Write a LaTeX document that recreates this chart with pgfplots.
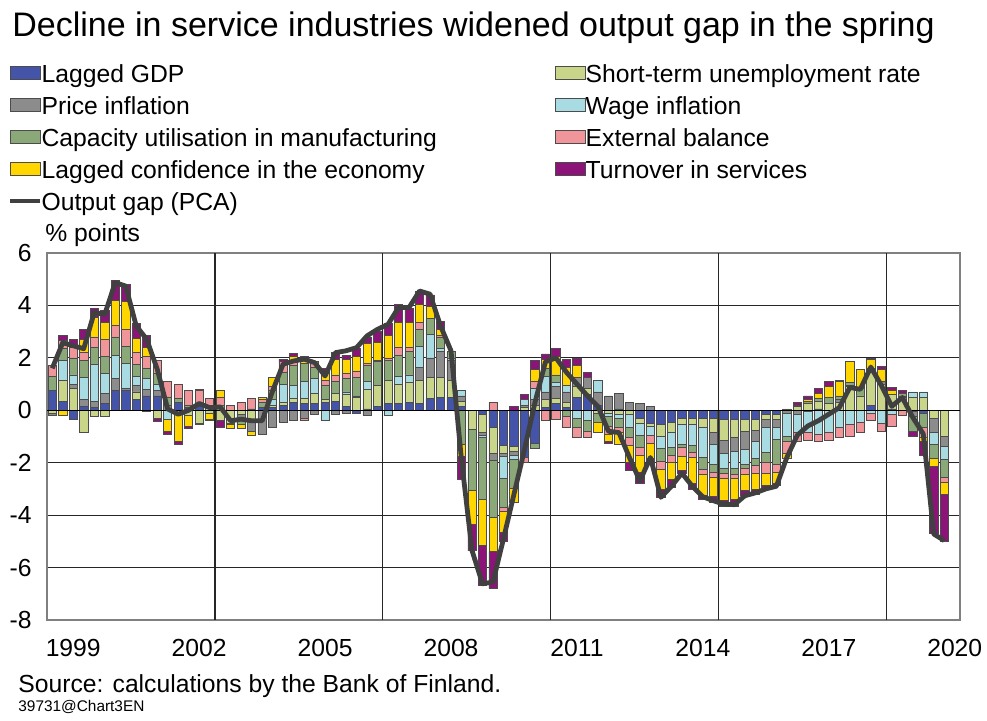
\documentclass[border=0pt]{standalone}
\usepackage{pgfplots}
\usepackage{pgfplotstable}
\pgfplotsset{compat=1.18}
\usepackage{fontspec}
\setmainfont{Liberation Sans}

\definecolor{cgdp}{RGB}{68,84,168}
\definecolor{cstu}{RGB}{201,214,138}
\definecolor{cprice}{RGB}{140,140,140}
\definecolor{cwage}{RGB}{168,220,226}
\definecolor{ccap}{RGB}{138,168,120}
\definecolor{cext}{RGB}{240,150,155}
\definecolor{cconf}{RGB}{255,214,0}
\definecolor{cturn}{RGB}{140,20,120}
\definecolor{cline}{RGB}{64,64,64}

\pgfplotstableread{
k gdp stu price wage cap ext conf turn gap
0 0.75 -0.10 -0.10 0.00 0.55 0.40 0.00 0.00 1.60
1 0.35 0.80 0.00 0.75 0.45 0.30 -0.20 0.22 2.58
2 -0.35 0.85 0.15 0.35 0.65 0.40 0.10 0.20 2.46
3 0.15 -0.85 0.25 0.85 0.65 0.30 0.50 0.40 2.35
4 0.10 -0.25 0.25 1.40 0.65 0.40 0.75 0.35 3.73
5 0.25 -0.25 0.40 0.75 0.65 0.65 0.65 0.45 3.66
6 0.75 0.00 0.45 0.90 0.70 0.45 0.95 0.75 4.87
7 0.75 0.00 0.10 0.95 0.65 0.65 1.05 0.65 4.74
8 0.40 0.30 0.25 0.35 0.45 0.45 0.55 0.55 3.22
9 0.55 -0.05 0.25 0.40 0.40 0.45 0.35 0.45 2.71
10 0.55 -0.30 0.20 0.25 0.40 0.50 0.00 -0.12 1.57
11 0.00 0.00 0.20 -0.35 0.30 0.60 -0.45 -0.12 0.05
12 0.30 -0.15 0.00 0.00 0.15 0.55 -1.05 -0.10 -0.15
13 0.10 -0.20 0.00 0.00 0.10 0.55 -0.40 -0.10 0.00
14 0.15 -0.50 -0.05 0.00 0.00 0.60 0.00 0.05 0.26
15 0.00 -0.10 0.00 0.15 0.00 0.30 -0.25 -0.05 0.10
16 0.00 -0.40 0.00 0.00 0.20 0.30 0.25 -0.25 0.13
17 0.00 -0.50 -0.05 0.00 0.00 0.20 -0.15 0.00 -0.40
18 0.00 -0.15 -0.20 0.00 -0.20 0.30 -0.15 0.00 -0.34
19 0.05 -0.40 -0.40 0.00 0.00 0.40 -0.15 0.00 -0.40
20 0.10 0.00 -0.90 0.00 0.20 0.10 0.10 0.00 -0.40
21 0.10 0.10 -0.65 0.20 0.35 0.15 0.35 0.00 0.74
22 0.20 0.10 -0.45 0.70 0.45 0.40 0.00 0.10 1.76
23 0.30 0.15 -0.40 0.50 0.75 0.20 0.15 0.12 1.88
24 0.25 0.20 -0.30 0.65 0.70 -0.10 0.15 0.10 1.95
25 0.25 0.40 -0.15 0.55 0.45 0.15 0.08 0.00 1.82
26 0.30 0.10 0.00 -0.40 0.55 0.20 0.25 0.20 1.31
27 0.35 0.30 -0.15 0.00 0.45 0.25 0.60 0.25 2.20
28 0.15 0.45 -0.10 0.10 0.50 0.20 0.55 0.15 2.27
29 -0.10 0.50 0.05 0.00 0.70 0.25 0.55 0.30 2.39
30 0.05 0.75 -0.20 0.30 0.60 0.10 0.75 0.25 2.84
31 0.15 0.80 0.00 0.00 0.90 0.05 0.70 0.40 3.09
32 0.25 0.90 0.00 -0.20 0.75 0.10 0.85 0.45 3.28
33 0.25 0.75 0.00 0.30 0.80 0.30 0.95 0.70 3.92
34 0.30 0.75 0.00 0.30 0.90 0.15 0.95 0.55 3.92
35 0.25 0.90 0.50 0.80 0.65 0.25 0.70 0.50 4.55
36 0.45 0.80 0.75 0.90 0.60 0.00 0.45 0.45 4.43
37 0.50 0.75 1.00 0.10 0.45 0.05 0.25 0.30 3.22
38 0.50 0.65 0.75 0.10 0.25 0.00 0.00 0.00 2.27
39 0.15 0.20 0.20 0.20 -1.30 0.00 -0.45 -0.90 -1.90
40 0.00 -0.72 0.00 0.00 -2.35 0.00 -1.27 -1.02 -5.35
41 -0.15 -0.70 -0.12 -0.06 -2.35 0.00 -1.78 -1.52 -6.62
42 -0.66 -1.00 -0.25 0.00 -2.16 0.30 -1.33 -1.40 -6.55
43 -1.35 -0.30 -0.10 -0.85 -1.10 -0.15 -0.80 -0.35 -4.90
44 -1.36 -0.20 -0.15 -0.15 -1.10 0.00 -0.55 0.15 -3.20
45 -1.80 0.10 0.10 0.20 0.00 -0.20 0.00 0.20 -1.50
46 -1.25 0.20 0.20 0.45 -0.20 0.25 0.45 0.35 0.30
47 0.10 0.30 0.30 0.60 0.30 -0.40 0.35 0.20 1.85
48 0.25 0.20 0.45 0.15 0.30 -0.35 0.70 0.30 2.00
49 0.10 0.20 0.40 0.25 -0.25 -0.40 0.70 0.30 1.45
50 0.50 0.40 0.35 -0.30 -0.35 -0.40 0.45 0.30 1.00
51 0.60 0.25 0.40 -0.40 -0.40 -0.25 0.00 0.20 0.55
52 0.20 -0.10 0.50 0.45 -0.35 0.00 -0.40 0.00 0.15
53 0.00 -0.10 0.55 -0.15 -0.35 -0.30 -0.30 -0.05 -0.80
54 0.05 -0.15 0.60 -0.15 -0.35 -0.20 -0.45 0.00 -0.85
55 0.00 -0.15 0.30 -0.50 -0.40 -0.30 -0.65 -0.30 -1.80
56 -0.30 -0.20 0.25 -0.45 -0.45 -0.30 -0.65 -0.45 -2.70
57 -0.50 -0.10 0.15 -0.35 0.00 -0.30 -0.60 -0.20 -1.80
58 -0.55 -0.45 0.00 -0.45 -0.50 -0.30 -0.75 -0.32 -3.32
59 -0.45 -0.40 0.00 -0.55 -0.30 -0.30 -0.65 -0.30 -2.90
60 -0.30 -0.25 0.00 -0.75 -0.10 -0.35 -0.55 -0.12 -2.40
61 -0.30 -0.25 0.00 -0.80 -0.25 -0.20 -1.00 -0.20 -2.90
62 -0.30 -0.35 0.00 -1.15 -0.45 -0.20 -0.80 -0.13 -3.30
63 -0.30 -0.55 -0.45 -0.75 -0.30 -0.20 -0.75 -0.20 -3.45
64 -0.35 -0.80 -0.50 -0.55 -0.20 -0.20 -0.85 -0.20 -3.58
65 -0.35 -0.70 -0.50 -0.65 -0.25 -0.15 -0.80 -0.25 -3.60
66 -0.35 -0.45 -0.70 -0.55 -0.15 -0.25 -0.60 -0.20 -3.26
67 -0.35 -0.40 -0.45 -0.65 -0.25 -0.30 -0.60 -0.20 -3.15
68 -0.15 -0.20 -0.30 -0.95 -0.40 -0.40 -0.45 -0.10 -3.00
69 -0.15 -0.20 -0.30 -0.45 -0.95 -0.30 -0.45 -0.05 -2.90
70 0.00 0.05 -0.10 -0.90 -0.20 -0.45 -0.20 0.00 -1.80
71 0.00 0.15 -0.15 -0.70 0.05 -0.35 0.00 0.10 -0.95
72 0.00 0.25 -0.05 -0.80 0.10 -0.30 0.05 0.15 -0.60
73 0.05 0.30 0.00 -0.90 0.10 -0.30 0.20 0.20 -0.40
74 0.00 0.25 0.00 -0.85 0.25 -0.30 0.40 0.20 -0.15
75 0.00 0.30 0.10 -0.65 0.15 -0.40 0.55 0.03 0.10
76 0.00 0.90 0.05 -0.55 0.10 -0.45 0.80 0.03 0.87
77 0.00 0.55 0.00 -0.45 0.30 -0.40 0.70 0.02 0.80
78 0.20 1.30 0.00 -0.10 0.10 -0.30 0.35 0.05 1.65
79 0.00 1.00 0.10 -0.50 0.00 -0.30 0.45 0.12 0.95
80 0.05 0.55 0.00 -0.15 0.00 -0.45 0.15 0.12 0.15
81 0.00 0.50 0.05 0.00 0.10 -0.20 0.00 0.10 0.49
82 -0.05 0.50 -0.20 0.20 -0.55 0.00 0.00 -0.20 -0.27
83 -0.10 0.50 0.00 0.20 -0.55 -0.40 -0.15 -0.50 -0.90
84 0.00 -0.30 -0.55 -0.45 -0.55 0.00 -0.30 -2.55 -4.72
85 0.00 -0.98 -0.38 -0.50 -0.70 -0.20 -0.45 -1.78 -4.97
}\datatable

\begin{document}
\fontsize{12.35pt}{14pt}\selectfont
\begin{tikzpicture}[x=1pt,y=1pt]
\useasboundingbox (0,0) rectangle (493.5,360);
\pgfplotsset{
  base/.style={
    scale only axis, width=456.5pt, height=183.5pt,
    at={(23.5pt,50pt)}, anchor=south west,
    xmin=-0.5, xmax=86.5, ymin=-8, ymax=6,
  },
  barbase/.style={base, ybar stacked, bar width=0.79},
  seg/.style={fill=#1, draw=black!70, line width=0.35pt},
}
% positive parts, grid, labels, legend
\begin{axis}[barbase,
  ytick={-8,-6,-4,-2,0,2,4,6},
  yticklabels={-8,-6,-4,-2,0,2,4,6},
  xtick={2,14,26,38,50,62,74,86},
  xticklabels={1999,2002,2005,2008,2011,2014,2017,2020},
  extra x ticks={15.5,31.5,47.5,63.5,79.5},
  extra x tick labels={},
  extra x tick style={grid=major},
  ymajorgrids,
  major tick length=0pt,
  major grid style={black!85, line width=0.6pt},
  axis line style={black!50, line width=0.6pt},
  tick label style={font=\fontsize{12.35pt}{14pt}\selectfont},
  yticklabel style={inner sep=0pt, xshift=-7.5pt},
  xticklabel style={inner sep=0pt, yshift=-9.5pt},
  legend columns=2,
  legend cell align=left,
  legend image code/.code={\draw[#1,draw=black!70,line width=0.35pt] (0pt,-1.6pt) rectangle (15pt,4.9pt);},
  legend style={at={(-0.0427,1.515)}, anchor=north west, draw=none, fill=none,
    inner sep=0pt, row sep=4pt,
    font=\fontsize{12.35pt}{14pt}\selectfont,
    nodes={inner sep=0pt, text height=9pt, text depth=3pt},
    /tikz/every odd column/.style={column sep=0pt},
    /tikz/every even column/.style={column sep=59pt}},
]
\addplot[seg=cgdp] table[x=k, y expr={max(\thisrow{gdp},0)}] {\datatable};
\addlegendentry{Lagged GDP}
\addplot[seg=cstu] table[x=k, y expr={max(\thisrow{stu},0)}] {\datatable};
\addlegendentry{Short-term unemployment rate}
\addplot[seg=cprice] table[x=k, y expr={max(\thisrow{price},0)}] {\datatable};
\addlegendentry{Price inflation}
\addplot[seg=cwage] table[x=k, y expr={max(\thisrow{wage},0)}] {\datatable};
\addlegendentry{Wage inflation}
\addplot[seg=ccap] table[x=k, y expr={max(\thisrow{cap},0)}] {\datatable};
\addlegendentry{Capacity utilisation in manufacturing}
\addplot[seg=cext] table[x=k, y expr={max(\thisrow{ext},0)}] {\datatable};
\addlegendentry{External balance}
\addplot[seg=cconf] table[x=k, y expr={max(\thisrow{conf},0)}] {\datatable};
\addlegendentry{Lagged confidence in the economy}
\addplot[seg=cturn] table[x=k, y expr={max(\thisrow{turn},0)}] {\datatable};
\addlegendentry{Turnover in services}
\addlegendimage{legend image code/.code={\draw[cline, line width=1.6pt] (0pt,1.65pt) -- (15pt,1.65pt);}}
\addlegendentry{Output gap (PCA)}
\end{axis}
% negative parts
\begin{axis}[barbase, hide axis]
\addplot[seg=cgdp] table[x=k, y expr={min(\thisrow{gdp},0)}] {\datatable};
\addplot[seg=cstu] table[x=k, y expr={min(\thisrow{stu},0)}] {\datatable};
\addplot[seg=cprice] table[x=k, y expr={min(\thisrow{price},0)}] {\datatable};
\addplot[seg=cwage] table[x=k, y expr={min(\thisrow{wage},0)}] {\datatable};
\addplot[seg=ccap] table[x=k, y expr={min(\thisrow{cap},0)}] {\datatable};
\addplot[seg=cext] table[x=k, y expr={min(\thisrow{ext},0)}] {\datatable};
\addplot[seg=cconf] table[x=k, y expr={min(\thisrow{conf},0)}] {\datatable};
\addplot[seg=cturn] table[x=k, y expr={min(\thisrow{turn},0)}] {\datatable};
\end{axis}
% zero line and output gap
\begin{axis}[base, hide axis]
\addplot[black, line width=0.7pt] coordinates {(-0.5,0) (86.5,0)};
\addplot[cline, line width=2.4pt, line join=round, mark=none] table[x=k, y=gap] {\datatable};
\end{axis}
\node[anchor=base west, inner sep=0pt, font=\fontsize{17pt}{20pt}\selectfont] at (6,341.5) {Decline in service industries widened output gap in the spring};
\node[anchor=west, inner sep=0pt] at (22.5,242.5) {\% points};
\node[anchor=base west, inner sep=0pt] at (9,14) {Source: calculations by the Bank of Finland.};
\node[anchor=base west, inner sep=0pt, font=\fontsize{7.7pt}{9pt}\selectfont] at (9,4.25) {39731@Chart3EN};
\end{tikzpicture}
\end{document}
